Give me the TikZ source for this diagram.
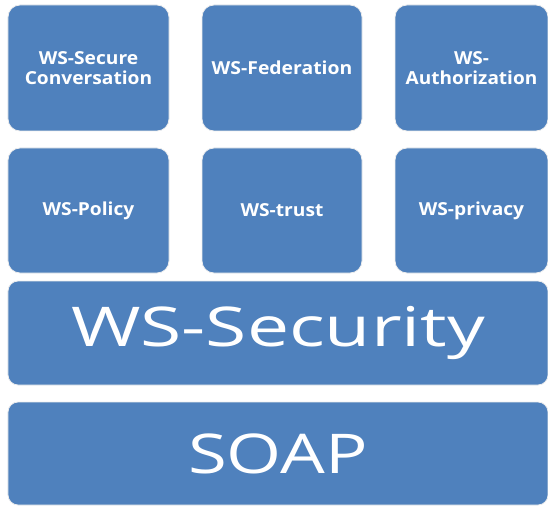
\documentclass[tikz,border=0pt]{standalone}
\usepackage{fontspec}
\setmainfont{Open Sans}
\definecolor{wsblue}{HTML}{4F81BD}
\newcommand{\widetext}[2]{\scalebox{#1}[1]{#2}}
\tikzset{
  wsbox/.style={fill=wsblue, draw=black!7, line width=0.8bp, rounded corners=12bp,
    inner sep=0pt, text=white, align=center},
  small/.style={wsbox, font=\bfseries\fontsize{18}{20}\selectfont},
  big/.style={wsbox, rounded corners=10bp, font=\fontsize{55}{60}\selectfont},
}
\begin{document}
\begin{tikzpicture}[x=1bp, y=-1bp]
\useasboundingbox (0,0) rectangle (548,506);
% top row
\node[small, minimum width=161bp, minimum height=126bp] (secconv) at (88.5,68)
  {\widetext{1.07}{WS-Secure}\\\widetext{1.07}{Conversation}};
\node[small, minimum width=160bp, minimum height=126bp] (fed) at (282,68)
  {\widetext{1.08}{WS-Federation}};
\node[small, minimum width=153bp, minimum height=126bp] (authz) at (471.5,68)
  {\widetext{1.06}{WS-}\\\widetext{1.06}{Authorization}};
% second row
\node[small, minimum width=161bp, minimum height=125bp] (policy) at (88.5,210.5)
  {\widetext{1.07}{WS-Policy}};
\node[small, minimum width=160bp, minimum height=125bp] (trust) at (282,210.5)
  {\widetext{1.07}{WS-trust}};
\node[small, minimum width=153bp, minimum height=125bp] (privacy) at (471.5,210.5)
  {\widetext{1.07}{WS-privacy}};
% base layers
\node[big, minimum width=540bp, minimum height=104bp] (security) at (278,333)
  {\widetext{1.37}{WS-Security}};
\node[big, minimum width=540bp, minimum height=103bp] (soap) at (278,453.5)
  {\widetext{1.29}{SOAP}};
\end{tikzpicture}
\end{document}
